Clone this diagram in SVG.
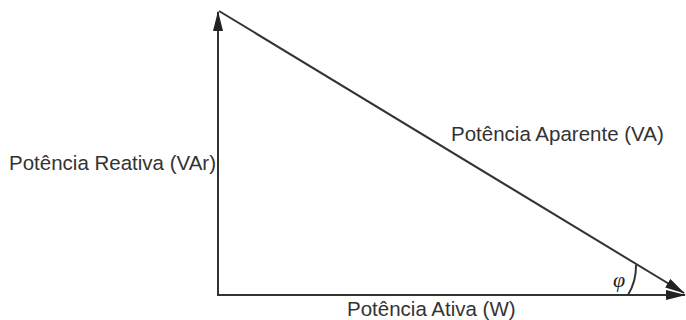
<svg xmlns="http://www.w3.org/2000/svg" width="686" height="320" viewBox="0 0 686 320">
<style>
.t{font-family:"Liberation Sans",Arial,sans-serif;font-size:20.5px;fill:#333}
.l{stroke:#333;stroke-width:2;fill:none}
</style>
<defs>
<marker id="av" markerWidth="20" markerHeight="10" refX="19" refY="5" orient="auto" markerUnits="userSpaceOnUse" viewBox="0 0 20 10">
<path d="M0,0 L20,5 L0,10 z" fill="#222"/>
</marker>
</defs>
<rect width="686" height="320" fill="#fff"/>
<g id="connectors">
<line class="l" x1="218" y1="296" x2="218" y2="12" marker-end="url(#av)"/>
<line class="l" x1="217" y1="295" x2="685" y2="295" marker-end="url(#av)"/>
<line class="l" x1="219" y1="11" x2="684" y2="293" marker-end="url(#av)"/>
<path class="l" d="M628,295 A56,56 0 0 0 636,265" stroke-width="1.5"/>
</g>
<g id="reativa"><text class="t" x="9" y="170">Potência Reativa (VAr)</text></g>
<g id="ativa"><text class="t" x="347" y="316">Potência Ativa (W)</text></g>
<g id="aparente"><text class="t" x="451" y="141">Potência Aparente (VA)</text></g>
<g id="phi"><text x="613" y="287" style="font-family:'Liberation Serif',serif;font-style:italic;font-size:22px;fill:#222">φ</text></g>
</svg>
